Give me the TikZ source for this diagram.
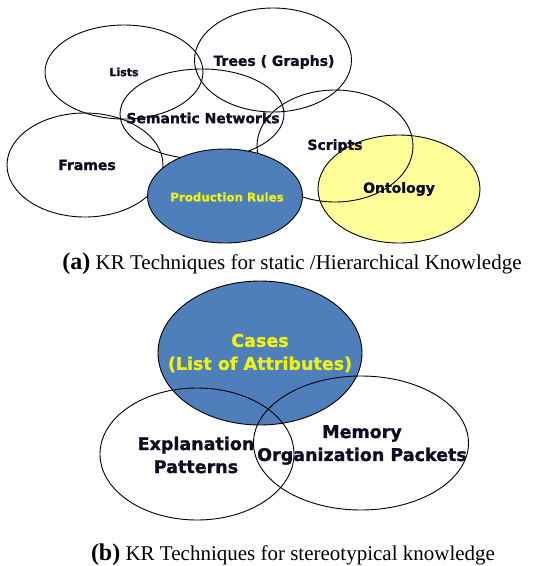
\documentclass[tikz,border=0pt]{standalone}
\usepackage{fontspec}
\setmainfont{Liberation Serif}
\newfontfamily\krfont{DejaVu Sans}[BoldFeatures={FakeBold=1.2}]
\usetikzlibrary{shapes.geometric}
\definecolor{krblue}{RGB}{79,127,187}
\definecolor{kryellow}{RGB}{255,255,153}
\definecolor{krtext}{RGB}{12,12,34}
\definecolor{krlight}{RGB}{238,242,20}
\begin{document}
\begin{tikzpicture}[x=1pt,y=-1pt,
		oval/.style={draw,ellipse,line width=0.9pt,inner sep=0pt},
		lbl/.style={text=krtext,align=center,inner sep=0pt,font=\krfont\bfseries\fontsize{14}{17}\selectfont},
		biglbl/.style={lbl,font=\krfont\bfseries\fontsize{17.5}{23}\selectfont},
		caption/.style={inner sep=0pt,font=\fontsize{21}{23}\selectfont}]
		\useasboundingbox (0,0) rectangle (535,566);
		% (a) static / hierarchical
		\node[oval,minimum width=158,minimum height=94] (lists) at (124,72) {};
		\node[oval,minimum width=157,minimum height=104] (trees) at (273,60) {};
		\node[oval,minimum width=164,minimum height=90] (sem) at (202,114) {};
		\node[oval,minimum width=156,minimum height=104] (frames) at (85,165) {};
		\node[oval,fill=kryellow,minimum width=162,minimum height=108] (onto) at (399,189) {};
		\node[oval,minimum width=156,minimum height=112] (scripts) at (335,146) {};
		\node[oval,fill=krblue,minimum width=155,minimum height=94] (prod) at (225,196) {};
		\node[lbl,font=\krfont\bfseries\fontsize{11}{13}\selectfont] (liststxt) at (lists) {Lists};
		\node[lbl] (treestxt) at (274,62) {Trees ( Graphs)};
		\node[lbl] (semtxt) at (203,118) {Semantic Networks};
		\node[lbl] (framestxt) at (87,165) {Frames};
		\node[lbl] (scriptstxt) at (scripts) {Scripts};
		\node[lbl] (ontotxt) at (onto) {Ontology};
		\node[lbl,text=krlight,font=\krfont\bfseries\fontsize{11.8}{14}\selectfont] (prodtxt) at (227,197) {Production Rules};
		\node[caption] (capa) at (292,264) {{\fontsize{24}{24}\selectfont\bfseries (a)} KR Techniques for static /Hierarchical Knowledge};
		% (b) stereotypical
		\node[oval,fill=krblue,minimum width=204,minimum height=144] (cases) at (260,353) {};
		\node[oval,minimum width=194,minimum height=132] (expl) at (197,454) {};
		\node[oval,minimum width=215,minimum height=134] (mop) at (361,443) {};
		\node[biglbl,text=krlight] (casestxt) at (cases) {Cases\\(List of Attributes)};
		\node[biglbl] (expltxt) at (196,455) {Explanation\\Patterns};
		\node[biglbl] (moptxt) at (362,445) {Memory\\Organization Packets};
		\node[caption] (capb) at (293,555) {{\fontsize{24}{24}\selectfont\bfseries (b)} KR Techniques for stereotypical knowledge};
	\end{tikzpicture}
\end{document}
